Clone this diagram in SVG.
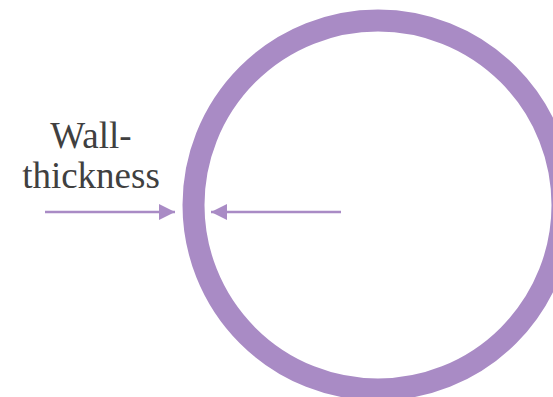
<svg xmlns="http://www.w3.org/2000/svg" width="553" height="397" viewBox="0 0 553 397">
<style>
.lbl{font-family:"Liberation Serif","DejaVu Serif",serif;font-size:37px;fill:#404040;text-anchor:middle}
.conn{stroke:#a98bc5;stroke-width:2.5;fill:none}
</style>
<defs>
<marker id="ah" viewBox="0 0 16 16" refX="16" refY="8" markerWidth="16" markerHeight="16" markerUnits="userSpaceOnUse" orient="auto">
<path d="M0,0 L16,8 L0,16 Z" fill="#a98bc5"/>
</marker>
</defs>
<rect width="553" height="397" fill="#fff"/>
<g id="pipe">
<circle cx="378" cy="205" r="184.5" fill="none" stroke="#a98bc5" stroke-width="22"/>
</g>
<g id="label">
<text class="lbl" x="91" y="148">Wall-</text>
<text class="lbl" x="91" y="188">thickness</text>
</g>
<g id="connectors">
<line class="conn" x1="45" y1="212" x2="175" y2="212" marker-end="url(#ah)"/>
<line class="conn" x1="341" y1="212" x2="211" y2="212" marker-end="url(#ah)"/>
</g>
</svg>
